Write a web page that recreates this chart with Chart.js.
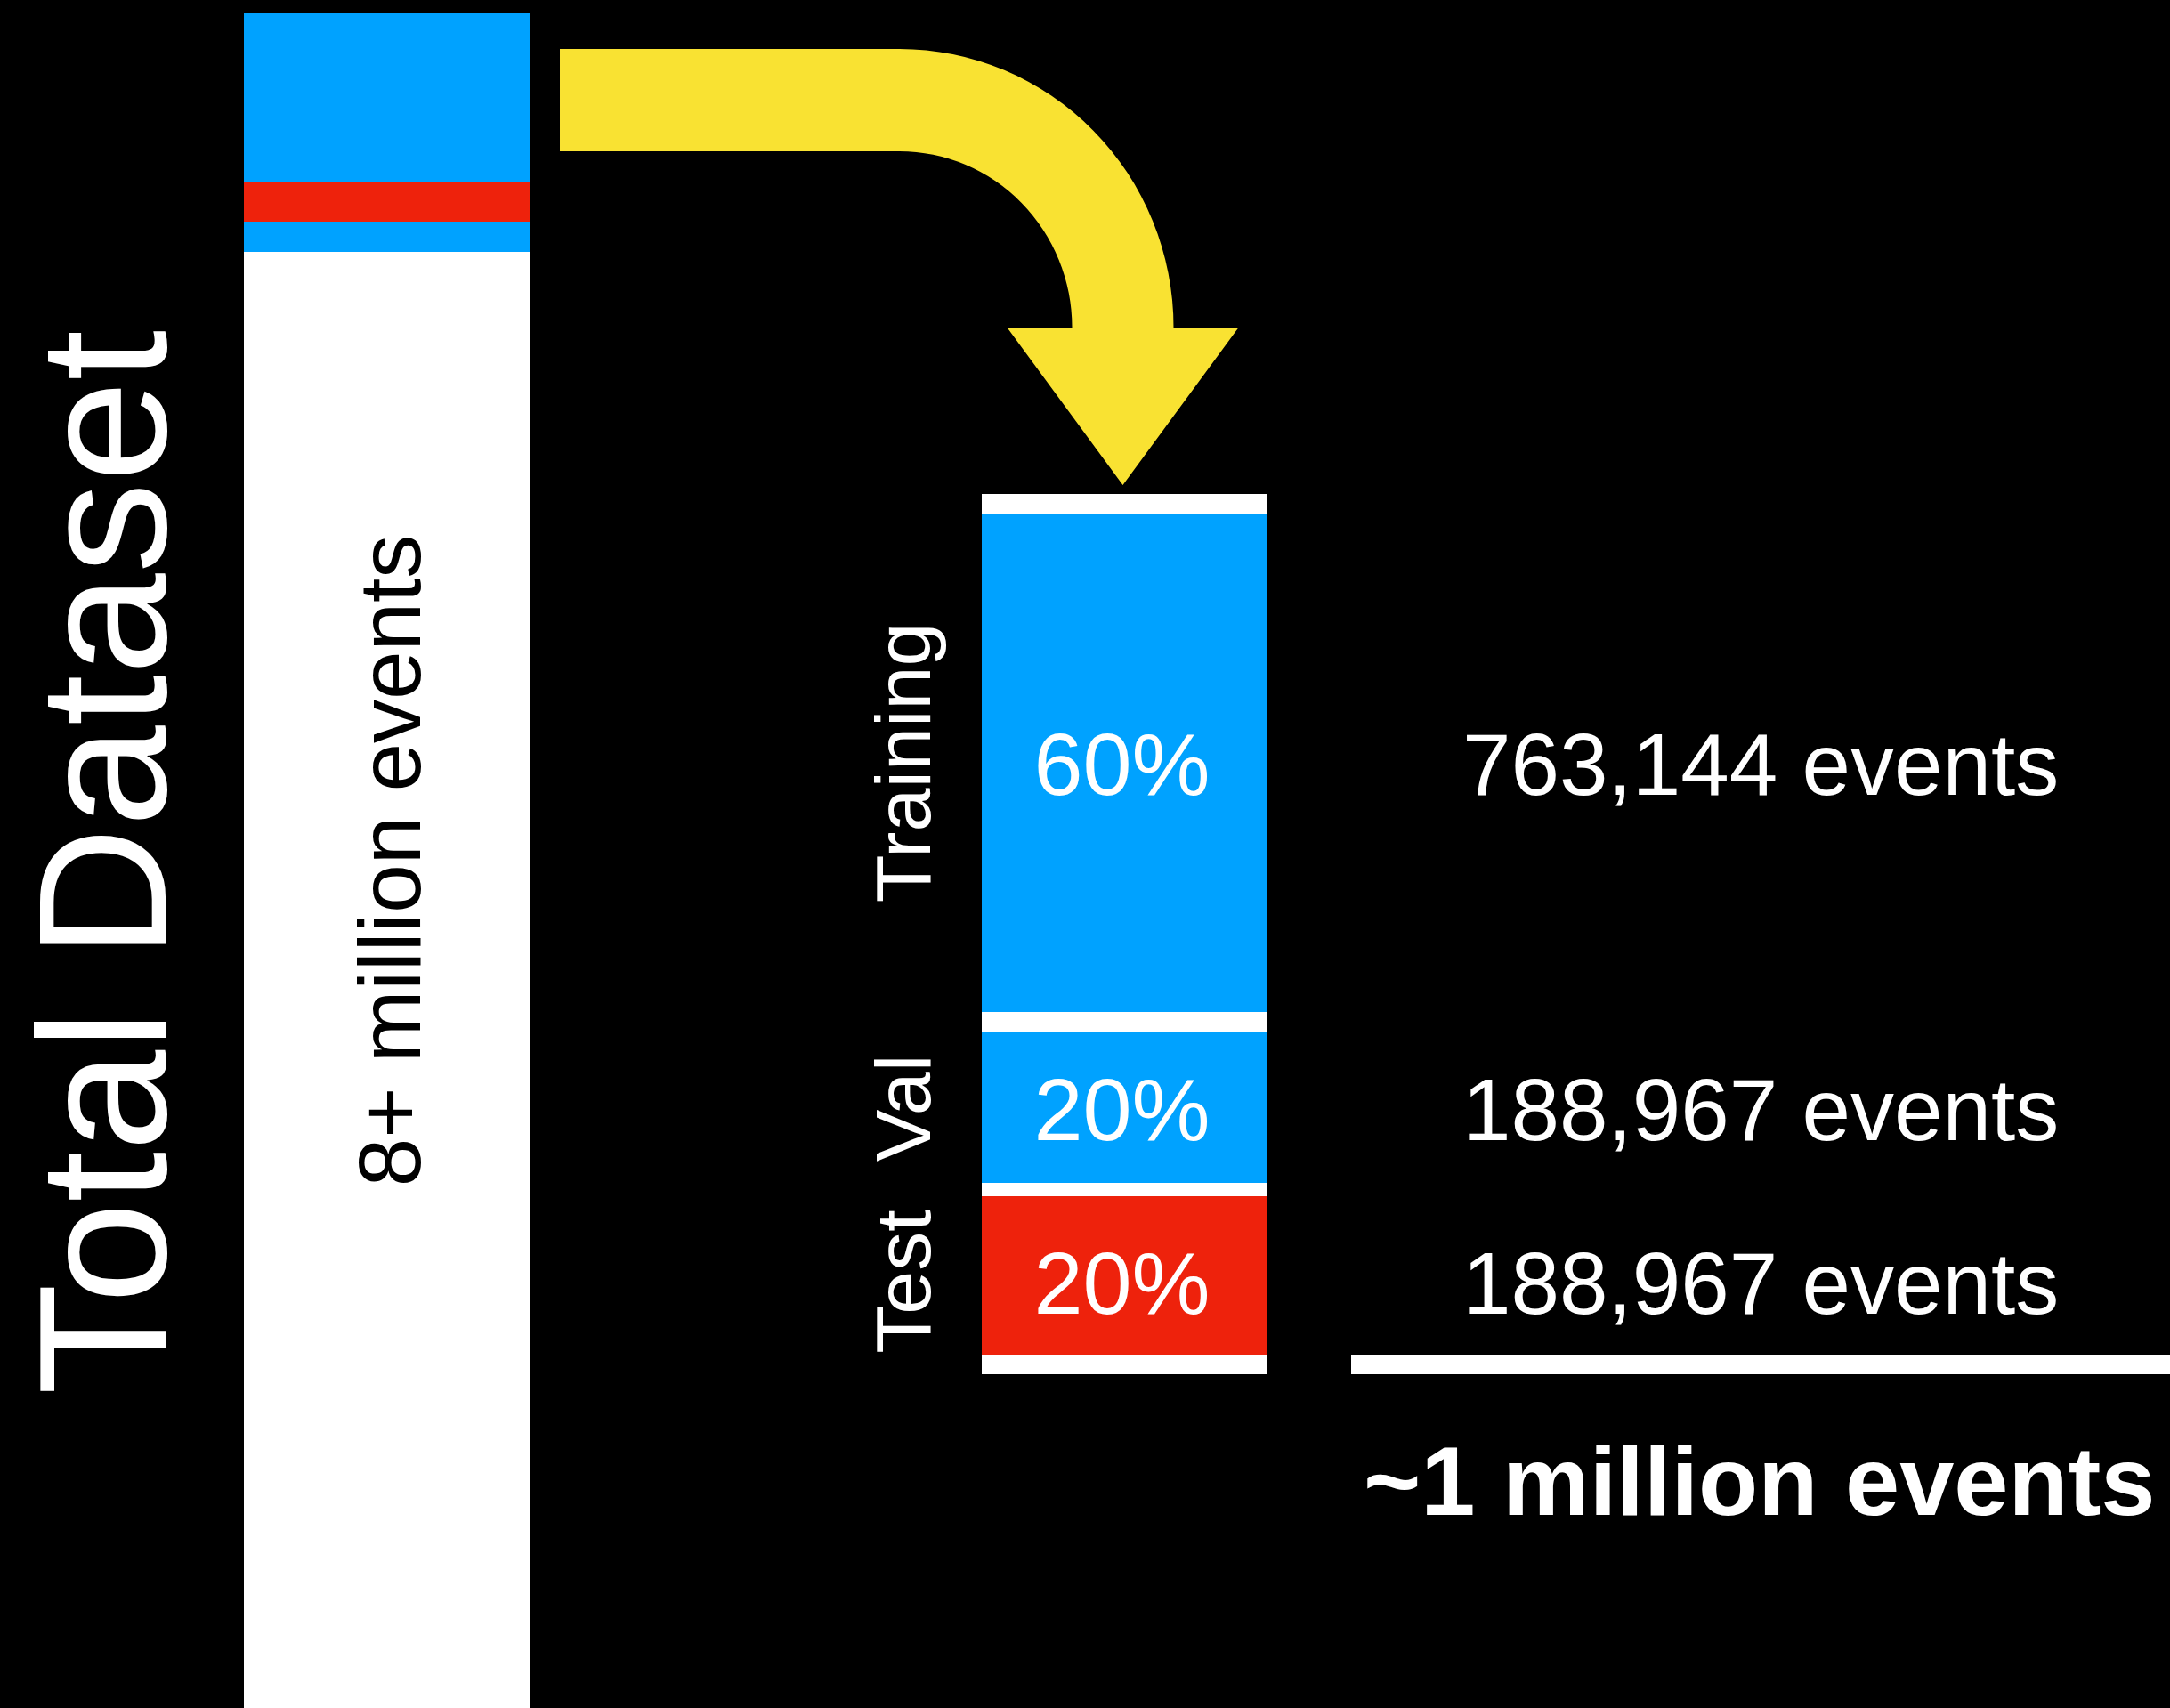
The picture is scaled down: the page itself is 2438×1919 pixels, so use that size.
<!DOCTYPE html>
<html>
<head>
<meta charset="utf-8">
<style>
  html, body { margin: 0; padding: 0; background: #000; overflow: hidden; }
  #wrap { width: 2438px; height: 1919px; position: relative; background: #000; }
  canvas { display: block; }
</style>
<script src="https://cdn.jsdelivr.net/npm/chart.js@4/dist/chart.umd.min.js"></script>
</head>
<body>
<div id="wrap"><canvas id="c" width="2438" height="1919"></canvas></div>
<script>
// ---------------- data ----------------
const categories = ['Total dataset', 'Selected subset'];
// vertical extent (chart units) above each bar before its first segment
const barOffsets = [15, 555];
// stacked segment heights, top to bottom
const totalSegments = [189, 45, 34, 1636];
const subsetSegments = [22, 560, 22, 170, 15, 178, 22];
// split labels
const splitNames = ['Training', 'Val', 'Test'];
const splitPercents = ['60%', '20%', '20%'];
const splitCounts = ['763,144', '188,967', '188,967'];
const totalLabel = 'Total Dataset';
const totalCountLabel = '8+ million events';
const subsetTotalLabel = '~1 million events';

// ---------------- styles ----------------
const BLUE = '#00A2FF', RED = '#EE220C', WHITE = '#FFFFFF', YELLOW = '#F9E232', NONE = 'rgba(0,0,0,0)';
const totalColors = [BLUE, RED, BLUE, WHITE];
const subsetColors = [WHITE, BLUE, WHITE, BLUE, WHITE, RED, WHITE];
const splitDatasetIndex = [2, 4, 6]; // dataset indices of Training / Val / Test segments in the subset bar
const textNudge = [0, 1, 7];         // small vertical text adjustments (px)
const FONT = "'Liberation Sans', Arial, Helvetica, sans-serif";

// ---------------- datasets ----------------
const datasets = [{
  label: 'offset',
  data: barOffsets,
  backgroundColor: [NONE, NONE]
}];
const nSeg = Math.max(totalSegments.length, subsetSegments.length);
for (let i = 0; i < nSeg; i++) {
  datasets.push({
    label: 'segment ' + (i + 1),
    data: [totalSegments[i] ?? 0, subsetSegments[i] ?? 0],
    backgroundColor: [totalColors[i] ?? NONE, subsetColors[i] ?? NONE]
  });
}

// ---------------- decorations & labels ----------------
const overlay = {
  id: 'overlay',
  afterDatasetsDraw(chart) {
    const ctx = chart.ctx;
    const y = chart.scales.y;
    const leftEl = chart.getDatasetMeta(1).data[0];
    const rightEl = chart.getDatasetMeta(1).data[1];
    const lLeft = leftEl.x - leftEl.width / 2, lRight = leftEl.x + leftEl.width / 2;
    const rLeft = rightEl.x - rightEl.width / 2, rRight = rightEl.x + rightEl.width / 2;
    const leftTop = y.getPixelForValue(barOffsets[0]);
    const leftBottom = y.getPixelForValue(barOffsets[0] + totalSegments.reduce((a, b) => a + b, 0));
    const leftMid = (leftTop + leftBottom) / 2;
    const rightTop = y.getPixelForValue(barOffsets[1]);
    const rightBottom = y.getPixelForValue(barOffsets[1] + subsetSegments.reduce((a, b) => a + b, 0));

    ctx.save();
    ctx.fillStyle = WHITE;

    function rotText(text, bx, cy, font) {
      ctx.save();
      ctx.translate(bx, cy);
      ctx.rotate(-Math.PI / 2);
      ctx.font = font;
      ctx.textAlign = 'center';
      ctx.textBaseline = 'alphabetic';
      ctx.fillText(text, 0, 0);
      ctx.restore();
    }
    rotText(totalLabel, lLeft - 88, leftMid + 2, '205px ' + FONT);
    ctx.fillStyle = '#000';
    rotText(totalCountLabel, leftEl.x + 37, leftMid, '98px ' + FONT);
    ctx.fillStyle = WHITE;

    // split labels
    splitDatasetIndex.forEach((di, k) => {
      const el = chart.getDatasetMeta(di).data[1];
      const cy = (el.y + el.base) / 2 + textNudge[k];
      rotText(splitNames[k], rLeft - 58, cy, '88px ' + FONT);
      ctx.font = '99px ' + FONT;
      ctx.textAlign = 'center';
      ctx.textBaseline = 'alphabetic';
      ctx.fillText(splitPercents[k], rightEl.x - 3, cy + 36);
      ctx.textAlign = 'left';
      ctx.font = '98px ' + FONT;
      ctx.fillText(splitCounts[k] + ' events', rRight + 219, cy + 36);
    });

    // sum line and total
    const lineH = subsetSegments[subsetSegments.length - 1];
    ctx.fillRect(rRight + 94, rightBottom - lineH, chart.width - (rRight + 94), lineH);
    ctx.font = 'bold 110px ' + FONT;
    ctx.textAlign = 'left';
    ctx.fillText(subsetTotalLabel, rRight + 108, rightBottom + 158);

    // curved arrow from the total bar to the subset bar
    const cx = rightEl.x - 253, cyA = rightTop - 187;
    const x0 = lRight + 34;
    ctx.fillStyle = YELLOW;
    ctx.beginPath();
    ctx.moveTo(x0, cyA - 313);
    ctx.lineTo(cx, cyA - 313);
    ctx.ellipse(cx, cyA, 308, 313, 0, -Math.PI / 2, 0, false);
    ctx.lineTo(rightEl.x + 128, cyA);
    ctx.lineTo(rightEl.x - 2, rightTop - 10);
    ctx.lineTo(rightEl.x - 132, cyA);
    ctx.lineTo(cx + 194, cyA);
    ctx.ellipse(cx, cyA, 194, 198, 0, 0, -Math.PI / 2, true);
    ctx.lineTo(x0, cyA - 198);
    ctx.closePath();
    ctx.fill();
    ctx.restore();
  }
};

new Chart(document.getElementById('c'), {
  type: 'bar',
  data: { labels: categories, datasets },
  options: {
    responsive: false,
    devicePixelRatio: 1,
    animation: false,
    events: [],
    layout: { padding: { left: 20, right: 760, top: 0, bottom: 0 } },
    datasets: { bar: { barThickness: 321, borderWidth: 0, inflateAmount: 0 } },
    scales: {
      x: { type: 'category', stacked: true, display: false, offset: true },
      y: { type: 'linear', stacked: true, display: false, reverse: true, min: 0, max: 1919 }
    },
    plugins: { legend: { display: false }, tooltip: { enabled: false } }
  },
  plugins: [overlay]
});
</script>
</body>
</html>
